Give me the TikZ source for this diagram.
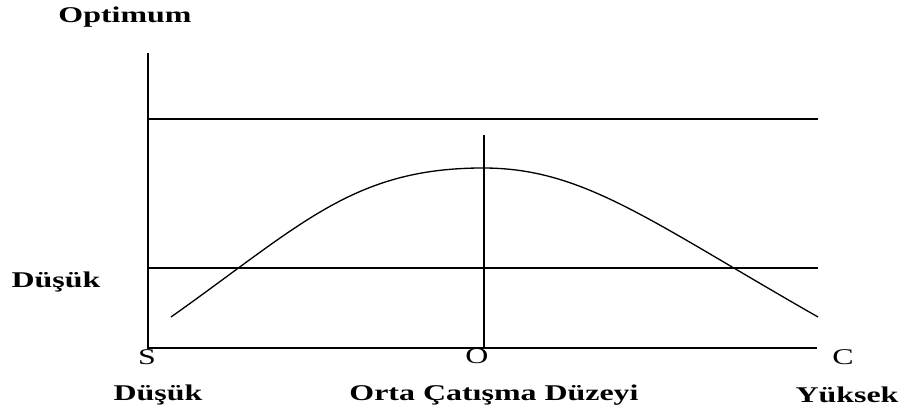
\documentclass[tikz,border=0pt]{standalone}
\usepackage{fontspec}
\usepackage{graphicx}
\setmainfont{Liberation Serif}
\usetikzlibrary{positioning}
\newcommand{\widetext}[1]{\scalebox{1.42}[1]{#1}}

\begin{document}
\begin{tikzpicture}[
        x=0.02cm, y=-0.02cm,
        axis/.style={line width=1.1pt, draw=black},
        level/.style={line width=0.75pt, draw=black},
        curve/.style={line width=0.75pt, draw=black},
        heading/.style={inner sep=0pt, font=\fontsize{12.8}{14}\selectfont\bfseries},
        mark label/.style={inner sep=0pt, font=\fontsize{12.8}{14}\selectfont}
    ]
        \useasboundingbox (0,0) rectangle (901,411);

        % axes and levels
        \coordinate (top) at (148,53);
        \coordinate (origin) at (148,348);
        \coordinate (axisend) at (817,348);
        \coordinate (hiL) at (148,119);
        \coordinate (hiR) at (818,119);
        \coordinate (loL) at (148,268);
        \coordinate (loR) at (818,268);
        \coordinate (midtop) at (484,135);
        \coordinate (midbot) at (484,348);
        \draw[axis] (top) -- (origin) -- (axisend);
        \draw[level] (hiL) -- (hiR);
        \draw[level] (loL) -- (loR);
        \draw[axis] (midtop) -- (midbot);

        % performance curve
        \coordinate (cstart) at (171,317);
        \coordinate (peak) at (483,168);
        \coordinate (cend) at (818,317);
        \draw[curve] (cstart) .. controls (301,225) and (353,168) .. (peak)
            .. controls (583,168) and (648,220) .. (cend);

        % labels
        \node[heading] (optimum) at (125,17) {\widetext{Optimum}};
        \node[heading] (lowlevel) at (56,282) {\widetext{Düşük}};
        \node[mark label] (s) at (147,357) {\widetext{S}};
        \node[mark label] (o) at (477,356) {\widetext{O}};
        \node[mark label] (c) at (843,357) {\widetext{C}};
        \node[heading] (low) at (158,395) {\widetext{Düşük}};
        \node[heading] (mid) at (494,395) {\widetext{Orta Çatışma Düzeyi}};
        \node[heading] (high) at (847,395) {\widetext{Yüksek}};
    \end{tikzpicture}
\end{document}
